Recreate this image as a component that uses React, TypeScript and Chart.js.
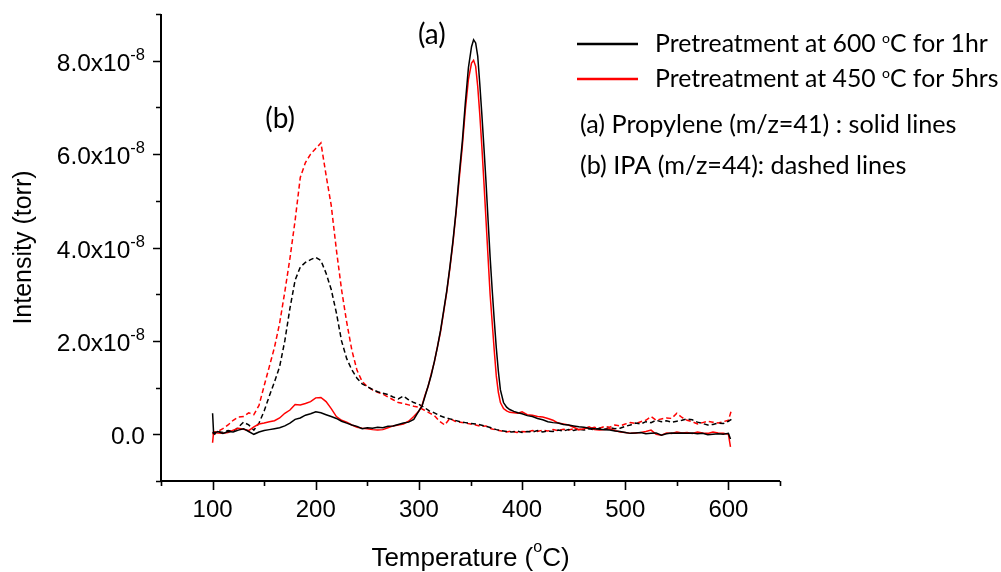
import { useEffect, useRef } from "react";
import { Chart, registerables } from "chart.js";

Chart.register(...registerables);

// Intensity values are in units of 1e-8 torr
const tempsProp = [
  100, 101, 105, 110, 115, 120, 125, 130, 135, 140,
  145, 150, 155, 160, 165, 170, 175, 180, 185, 190,
  195, 200, 205, 210, 215, 220, 225, 230, 235, 240,
  245, 250, 255, 260, 265, 270, 275, 280, 285, 290,
  295, 300, 303, 306, 309, 312, 315, 318, 321, 324,
  327, 330, 333, 336, 339, 342, 345, 348, 351, 353,
  355, 357, 359, 361, 363, 365, 367, 369, 371, 373,
  375, 377, 379, 382, 385, 388, 392, 396, 400, 405,
  410, 415, 420, 425, 430, 435, 440, 445, 450, 455,
  460, 465, 470, 475, 480, 485, 490, 495, 500, 505,
  510, 515, 520, 525, 530, 535, 540, 545, 550, 555,
  560, 565, 570, 575, 580, 585, 590, 595, 600, 602,
];

// Propylene (m/z=41), pretreatment at 600 C for 1 hr (black solid)
const prop600 = [
  0.45, 0.02, 0.06, 0.02, 0.06, 0.05, 0.09, 0.12, 0.06, 0.0,
  0.05, 0.08, 0.1, 0.12, 0.14, 0.18, 0.24, 0.32, 0.35, 0.41,
  0.44, 0.48, 0.46, 0.42, 0.38, 0.34, 0.28, 0.24, 0.2, 0.17,
  0.12, 0.14, 0.13, 0.15, 0.14, 0.17, 0.18, 0.21, 0.24, 0.26,
  0.32, 0.5, 0.6, 0.82, 1.04, 1.27, 1.56, 1.87, 2.23, 2.65,
  3.07, 3.58, 4.14, 4.78, 5.55, 6.25, 7.1, 7.85, 8.3, 8.45,
  8.38, 8.1, 7.5, 6.85, 6.15, 5.42, 4.6, 3.8, 3.1, 2.45,
  1.85, 1.35, 0.95, 0.68, 0.58, 0.53, 0.49, 0.46, 0.44, 0.4,
  0.38, 0.34, 0.31, 0.27, 0.25, 0.24, 0.21, 0.2, 0.18, 0.16,
  0.15, 0.13, 0.12, 0.11, 0.1, 0.09, 0.07, 0.06, 0.04, 0.02,
  0.03, 0.04, 0.01, 0.02, 0.03, -0.02, 0.01, 0.03, 0.02, 0.03,
  0.02, 0.03, 0.01, 0.02, -0.01, 0.0, 0.01, 0.0, 0.02, -0.1,
];

// Propylene (m/z=41), pretreatment at 450 C for 5 hrs (red solid)
const prop450 = [
  -0.18, 0.05, 0.03, 0.02, 0.04, 0.09, 0.13, 0.11, 0.08, 0.16,
  0.22, 0.24, 0.27, 0.29, 0.35, 0.45, 0.52, 0.64, 0.63, 0.66,
  0.7, 0.78, 0.79, 0.7, 0.55, 0.38, 0.3, 0.26, 0.2, 0.15,
  0.13, 0.12, 0.1, 0.09, 0.1, 0.14, 0.18, 0.2, 0.22, 0.28,
  0.38, 0.5, 0.62, 0.84, 1.03, 1.3, 1.55, 1.88, 2.2, 2.62,
  3.05, 3.55, 4.1, 4.75, 5.45, 6.15, 6.95, 7.6, 7.95, 8.01,
  7.88, 7.45, 6.85, 6.16, 5.4, 4.6, 3.8, 3.0, 2.4, 1.8,
  1.25, 0.9, 0.68, 0.55, 0.5, 0.47, 0.46, 0.45, 0.48, 0.42,
  0.41, 0.38, 0.37, 0.34, 0.3, 0.24, 0.22, 0.2, 0.15, 0.1,
  0.12, 0.16, 0.1, 0.09, 0.1, 0.12, 0.08, 0.05, 0.04, 0.02,
  0.03, 0.04, 0.06, 0.09, 0.0, -0.02, 0.03, 0.02, 0.05, 0.03,
  0.04, 0.02, 0.05, 0.03, 0.02, 0.05, 0.03, 0.02, 0.0, -0.27,
];

const tempsIPA = [
  100, 102, 105, 110, 115, 120, 125, 130, 135, 140,
  145, 150, 155, 160, 165, 170, 175, 180, 185, 190,
  195, 200, 205, 210, 215, 220, 225, 230, 235, 240,
  245, 250, 255, 260, 265, 270, 275, 280, 285, 290,
  295, 300, 305, 310, 315, 320, 325, 330, 335, 340,
  345, 350, 355, 360, 365, 370, 375, 380, 385, 390,
  395, 400, 405, 410, 415, 420, 425, 430, 435, 440,
  445, 450, 455, 460, 465, 470, 475, 480, 485, 490,
  495, 500, 505, 510, 515, 520, 525, 530, 535, 540,
  545, 550, 555, 560, 565, 570, 575, 580, 585, 590,
  595, 600, 603,
];

// IPA (m/z=44), pretreatment at 600 C for 1 hr (black dashed)
const ipa600 = [
  0.05, 0.0, 0.06, 0.04, 0.08, 0.06, 0.15, 0.26, 0.2, 0.09,
  0.24, 0.5, 0.82, 1.12, 1.45, 2.0, 2.7, 3.3, 3.58, 3.68,
  3.74, 3.79, 3.72, 3.45, 3.1, 2.6, 2.0, 1.62, 1.38, 1.2,
  1.08, 1.02, 0.96, 0.91, 0.88, 0.85, 0.8, 0.76, 0.82, 0.74,
  0.68, 0.64, 0.58, 0.5, 0.46, 0.4, 0.36, 0.33, 0.3, 0.27,
  0.25, 0.23, 0.22, 0.2, 0.17, 0.14, 0.1, 0.08, 0.06, 0.05,
  0.07, 0.04, 0.06, 0.05, 0.08, 0.05, 0.07, 0.06, 0.09, 0.07,
  0.1, 0.08, 0.11, 0.09, 0.12, 0.1, 0.13, 0.11, 0.14, 0.12,
  0.13, 0.17, 0.2, 0.24, 0.22, 0.27, 0.25, 0.3, 0.27, 0.29,
  0.26, 0.28, 0.3, 0.33, 0.31, 0.26, 0.23, 0.2, 0.21, 0.24,
  0.23, 0.28, 0.32,
];

// IPA (m/z=44), pretreatment at 450 C for 5 hrs (red dashed)
const ipa450 = [
  0.0, 0.05, 0.06, 0.12, 0.2, 0.3, 0.37, 0.38, 0.46, 0.42,
  0.62, 1.04, 1.45, 1.86, 2.38, 3.05, 3.77, 4.58, 5.5, 5.82,
  6.0, 6.12, 6.24, 5.55, 4.9, 3.95, 3.1, 2.4, 1.8, 1.37,
  1.13, 1.02, 0.95, 0.9, 0.86, 0.8, 0.74, 0.68, 0.66, 0.63,
  0.6, 0.58, 0.52, 0.46, 0.4, 0.28, 0.2, 0.34, 0.28, 0.26,
  0.24, 0.22, 0.2, 0.17, 0.18, 0.12, 0.09, 0.07, 0.05, 0.07,
  0.04, 0.06, 0.05, 0.08, 0.06, 0.09, 0.07, 0.1, 0.08, 0.11,
  0.09, 0.12, 0.1, 0.14, 0.12, 0.15, 0.13, 0.17, 0.15, 0.2,
  0.18, 0.22, 0.25, 0.23, 0.27, 0.3, 0.38, 0.3, 0.33, 0.35,
  0.34, 0.45, 0.36, 0.3, 0.27, 0.22, 0.25, 0.28, 0.26, 0.24,
  0.27, 0.3, 0.52,
];

const xMajorTicks = [100, 200, 300, 400, 500, 600];
const xMinorTicks = [50, 150, 250, 350, 450, 550, 650];
const yMajorTicks = [0, 2, 4, 6, 8];
const yMinorTicks = [-1, 1, 3, 5, 7, 9];
const yTickMantissas = ["0.0", "2.0x10", "4.0x10", "6.0x10", "8.0x10"];
const yTickExponent = "-8";

const legendEntries = [
  { pre: "Pretreatment at 600 ", sup: "o", post: "C for 1hr", color: "#000000" },
  { pre: "Pretreatment at 450 ", sup: "o", post: "C for 5hrs", color: "#ff0000" },
];
const notes = ["(a) Propylene (m/z=41) : solid lines", "(b) IPA (m/z=44): dashed lines"];
const peakLabels = [
  { text: "(a)", t: 299, v: 8.36 },
  { text: "(b)", t: 151, v: 6.55 },
];

const AXIS_FONT = '"Liberation Sans", Arial, sans-serif';
const NOTE_FONT = 'Lato, Carlito, Calibri, sans-serif';

type Seg = { text: string; size: number; raise: number; family: string };

function drawRich(ctx: CanvasRenderingContext2D, segs: Seg[], x: number, baseline: number, align: "left" | "center" | "right") {
  const widths = segs.map((s) => {
    ctx.font = `${s.size}px ${s.family}`;
    return ctx.measureText(s.text).width;
  });
  const total = widths.reduce((a, b) => a + b, 0);
  let cx = align === "center" ? x - total / 2 : align === "right" ? x - total : x;
  ctx.textAlign = "left";
  ctx.textBaseline = "alphabetic";
  segs.forEach((s, i) => {
    ctx.font = `${s.size}px ${s.family}`;
    ctx.fillText(s.text, cx, baseline - s.raise);
    cx += widths[i];
  });
}

const decorPlugin = {
  id: "decor",
  afterDraw(chart: any) {
    const ctx: CanvasRenderingContext2D = chart.ctx;
    const { left, right, top, bottom } = chart.chartArea;
    const xs = chart.scales.x;
    const ys = chart.scales.y;
    ctx.save();
    ctx.fillStyle = "#000";
    ctx.strokeStyle = "#000";
    // axes
    ctx.lineWidth = 2;
    ctx.beginPath();
    ctx.moveTo(left, top);
    ctx.lineTo(left, bottom);
    ctx.lineTo(right, bottom);
    ctx.stroke();
    // ticks
    ctx.lineWidth = 1.6;
    ctx.beginPath();
    xMajorTicks.forEach((t) => {
      const px = Math.round(xs.getPixelForValue(t)) + 0.5;
      ctx.moveTo(px, bottom);
      ctx.lineTo(px, bottom + 9);
    });
    xMinorTicks.forEach((t) => {
      const px = Math.round(xs.getPixelForValue(t)) + 0.5;
      ctx.moveTo(px, bottom);
      ctx.lineTo(px, bottom + 5);
    });
    yMajorTicks.forEach((v) => {
      const py = Math.round(ys.getPixelForValue(v)) + 0.5;
      ctx.moveTo(left, py);
      ctx.lineTo(left - 8, py);
    });
    yMinorTicks.forEach((v) => {
      const py = Math.round(ys.getPixelForValue(v)) + 0.5;
      ctx.moveTo(left, py);
      ctx.lineTo(left - 5, py);
    });
    ctx.stroke();
    // x tick labels
    ctx.font = `24px ${AXIS_FONT}`;
    ctx.textAlign = "center";
    ctx.textBaseline = "alphabetic";
    xMajorTicks.forEach((t) => {
      ctx.fillText(String(t), xs.getPixelForValue(t), bottom + 36);
    });
    // y tick labels
    yMajorTicks.forEach((v, i) => {
      const py = ys.getPixelForValue(v);
      const segs: Seg[] = [{ text: yTickMantissas[i], size: 24.5, raise: 0, family: AXIS_FONT }];
      if (v !== 0) segs.push({ text: yTickExponent, size: 16.5, raise: 11, family: AXIS_FONT });
      drawRich(ctx, segs, left - 16, py + 10, "right");
    });
    // x title
    drawRich(
      ctx,
      [
        { text: "Temperature (", size: 26, raise: 0, family: AXIS_FONT },
        { text: "o", size: 16, raise: 14, family: AXIS_FONT },
        { text: "C)", size: 26, raise: 0, family: AXIS_FONT },
      ],
      (left + right) / 2,
      566,
      "center"
    );
    // y title
    ctx.save();
    ctx.translate(31, (top + bottom) / 2);
    ctx.rotate(-Math.PI / 2);
    ctx.font = `25px ${AXIS_FONT}`;
    ctx.textAlign = "center";
    ctx.textBaseline = "alphabetic";
    ctx.fillText("Intensity (torr)", 0, 0);
    ctx.restore();
    // legend
    legendEntries.forEach((e, i) => {
      const ly = 44 + i * 35;
      ctx.strokeStyle = e.color;
      ctx.lineWidth = 2.5;
      ctx.beginPath();
      ctx.moveTo(577, ly);
      ctx.lineTo(638, ly);
      ctx.stroke();
      ctx.fillStyle = "#000";
      drawRich(
        ctx,
        [
          { text: e.pre, size: 24.8, raise: 0, family: NOTE_FONT },
          { text: e.sup, size: 14, raise: 9, family: NOTE_FONT },
          { text: e.post, size: 24.8, raise: 0, family: NOTE_FONT },
        ],
        655,
        ly + 8,
        "left"
      );
    });
    notes.forEach((n, i) => {
      drawRich(ctx, [{ text: n, size: 25.2, raise: 0, family: NOTE_FONT }], 580, 133 + i * 41, "left");
    });
    // peak labels
    peakLabels.forEach((p) => {
      drawRich(
        ctx,
        [{ text: p.text, size: 28, raise: 0, family: NOTE_FONT }],
        xs.getPixelForValue(p.t),
        ys.getPixelForValue(p.v),
        "left"
      );
    });
    ctx.restore();
  },
};

function toPoints(xs: number[], ys: number[]) {
  return xs.map((x, i) => ({ x, y: ys[i] }));
}

export default function App() {
  const ref = useRef<HTMLCanvasElement | null>(null);
  useEffect(() => {
    if (!ref.current) return;
    const chart = new Chart(ref.current, {
      type: "line",
      data: {
        datasets: [
          { label: "Propylene 600", data: toPoints(tempsProp, prop600), borderColor: "#000000", borderWidth: 1.5, pointRadius: 0, fill: false, tension: 0 },
          { label: "Propylene 450", data: toPoints(tempsProp, prop450), borderColor: "#ff0000", borderWidth: 1.5, pointRadius: 0, fill: false, tension: 0 },
          { label: "IPA 600", data: toPoints(tempsIPA, ipa600), borderColor: "#000000", borderWidth: 1.5, borderDash: [5, 3], pointRadius: 0, fill: false, tension: 0 },
          { label: "IPA 450", data: toPoints(tempsIPA, ipa450), borderColor: "#ff0000", borderWidth: 1.5, borderDash: [5, 3], pointRadius: 0, fill: false, tension: 0 },
        ],
      },
      options: {
        animation: false,
        responsive: false,
        devicePixelRatio: 1,
        layout: { padding: { left: 161, right: 221, top: 14, bottom: 91 } },
        plugins: { legend: { display: false }, tooltip: { enabled: false }, title: { display: false } },
        scales: {
          x: { type: "linear", min: 50, max: 650, display: false },
          y: { type: "linear", min: -1, max: 9, display: false },
        },
      },
      plugins: [decorPlugin],
    } as any);
    return () => chart.destroy();
  }, []);
  return (
    <div style={{ position: "fixed", left: 0, top: 0, width: 1001, height: 572, background: "#fff" }}>
      <canvas ref={ref} width={1001} height={572} style={{ display: "block" }} />
    </div>
  );
}
